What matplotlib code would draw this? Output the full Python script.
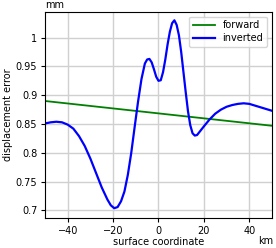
import matplotlib

matplotlib.use("Agg")
import matplotlib.pyplot as plt  # noqa: E402
from matplotlib.ticker import FuncFormatter  # noqa: E402

# forward model: straight line across the profile
FWD_X = [-50, 50]
FWD_Y = [0.890, 0.847]

# inverted solution
INV_X = [-50, -47.5, -45, -42.5, -40, -37.5, -35, -32.5, -30, -27.5, -25, -22.5,
         -21, -19.5, -18, -16.5, -15, -13.5, -12, -10.5, -9, -7.5, -6, -5, -4,
         -3, -2, -1, 0, 1, 2, 3, 4, 5, 6, 7, 8, 9, 10, 11, 12, 13, 14, 15, 16,
         17, 18, 20, 22.5, 25, 27.5, 30, 32.5, 35, 37.5, 40, 42.5, 45, 47.5, 50]
INV_Y = [0.851, 0.853, 0.854, 0.853, 0.849, 0.842, 0.829, 0.812, 0.790, 0.765,
         0.740, 0.719, 0.709, 0.704, 0.706, 0.716, 0.733, 0.762, 0.800, 0.845,
         0.889, 0.928, 0.955, 0.962, 0.963, 0.957, 0.945, 0.932, 0.925, 0.926,
         0.940, 0.962, 0.988, 1.010, 1.025, 1.030, 1.022, 1.004, 0.975, 0.940,
         0.905, 0.872, 0.848, 0.834, 0.830, 0.831, 0.836, 0.846, 0.858, 0.868,
         0.875, 0.880, 0.883, 0.885, 0.886, 0.885, 0.882, 0.879, 0.876, 0.873]

FS = 7

fig = plt.figure(figsize=(2.76, 2.48), dpi=100)
ax = fig.add_axes([0.163, 0.121, 0.8225, 0.832])
ax.plot(FWD_X, FWD_Y, color="green", lw=1.3, label="forward")
ax.plot(INV_X, INV_Y, color="blue", lw=1.6, label="inverted")

ax.set_xlim(-50, 50)
ax.set_ylim(0.687, 1.045)
ax.set_xticks([-40, -20, 0, 20, 40])
ax.set_yticks([0.7, 0.75, 0.8, 0.85, 0.9, 0.95, 1.0])
ax.yaxis.set_major_formatter(FuncFormatter(lambda v, _: f"{v:g}"))
ax.tick_params(labelsize=FS, length=3, width=0.8, pad=2.5)
ax.grid(True, color="#d0d0d0", lw=1.0)
ax.set_axisbelow(True)

ax.set_xlabel("surface coordinate", fontsize=FS, labelpad=1)
ax.set_ylabel("displacement error", fontsize=FS, labelpad=2)
fig.text(0.165, 0.978, "mm", fontsize=FS, ha="left", va="center")
fig.text(0.99, 0.03, "km", fontsize=FS, ha="right", va="center")

ax.legend(fontsize=FS, loc="upper right", handlelength=2.2,
          borderpad=0.4, labelspacing=0.3)

fig.savefig("out.png", dpi=100)
